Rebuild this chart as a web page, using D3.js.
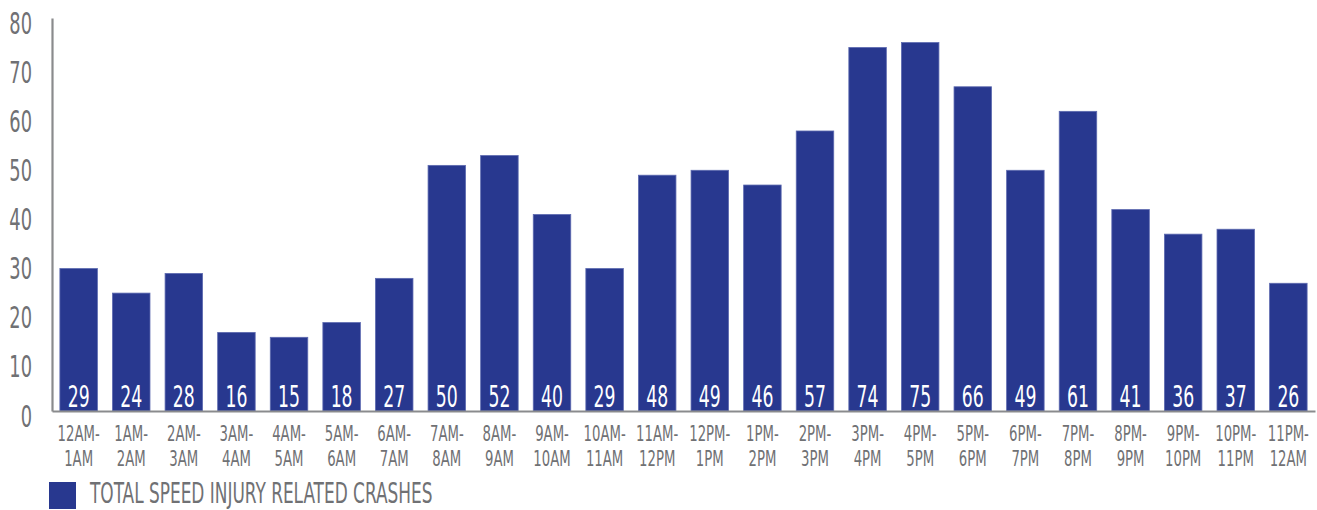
<!DOCTYPE html>
<html><head><meta charset="utf-8">
<script src="https://cdn.jsdelivr.net/npm/d3@7"></script>
<style>
html,body{margin:0;padding:0;background:#fff;}
text{font-family:"DejaVu Sans Condensed","Liberation Sans Narrow",sans-serif;}
</style></head>
<body><svg id="c" width="1317" height="510"></svg>
<script>
const categories = [["12AM-","1AM"],["1AM-","2AM"],["2AM-","3AM"],["3AM-","4AM"],["4AM-","5AM"],["5AM-","6AM"],["6AM-","7AM"],["7AM-","8AM"],["8AM-","9AM"],["9AM-","10AM"],["10AM-","11AM"],["11AM-","12PM"],["12PM-","1PM"],["1PM-","2PM"],["2PM-","3PM"],["3PM-","4PM"],["4PM-","5PM"],["5PM-","6PM"],["6PM-","7PM"],["7PM-","8PM"],["8PM-","9PM"],["9PM-","10PM"],["10PM-","11PM"],["11PM-","12AM"]];
const values = [29,24,28,16,15,18,27,50,52,40,29,48,49,46,57,74,75,66,49,61,41,36,37,26];
const yTicks = [0,10,20,30,40,50,60,70,80];
const seriesName = "TOTAL SPEED INJURY RELATED CRASHES";

const barColor = "#28388f", gray = "#707174";
const svg = d3.select("#c");
const keys = categories.map(c => c.join(""));
const x = d3.scaleBand().domain(keys).range([52, 1315]).paddingInner(0.287).paddingOuter(0.15);
const y = d3.scaleLinear().domain([0, 80]).range([411, 18]);

// bars
svg.append("g").selectAll("rect").data(values).join("rect")
  .attr("x", (d,i) => x(keys[i])).attr("width", x.bandwidth())
  .attr("y", d => y(d)).attr("height", d => y(0) - y(d))
  .attr("fill", barColor).attr("stroke", "#5d6ab0").attr("stroke-width", 0.8);

// value labels
svg.append("g").selectAll("text").data(values).join("text")
  .attr("transform", (d,i) => `translate(${x(keys[i]) + x.bandwidth()/2},${y(0) - 4}) scale(0.64,1)`)
  .attr("text-anchor", "middle").attr("fill", "#fff").attr("font-size", 30)
  .text(d => d);

// y axis
const ya = svg.append("g").attr("transform", "translate(52,0)")
  .call(d3.axisLeft(y).tickValues(yTicks).tickSize(0).tickFormat(""));
ya.select(".domain").attr("stroke", "#8a8b8d").attr("stroke-width", 2.2);
ya.selectAll(".tick").append("text")
  .attr("transform", `translate(-20,15) scale(0.66,1)`)
  .attr("text-anchor", "end").attr("fill", gray).attr("font-size", 30)
  .text(d => d);

// x axis
const xa = svg.append("g").attr("transform", `translate(0,${y(0)})`)
  .call(d3.axisBottom(x).tickSize(0).tickFormat(""));
xa.select(".domain").attr("stroke", "#8a8b8d").attr("stroke-width", 2.2);
xa.selectAll(".tick").each(function(d, i) {
  const g = d3.select(this);
  categories[i].forEach((line, j) => {
    g.append("text").attr("transform", `translate(0,${30 + j*25}) scale(0.67,1)`)
      .attr("text-anchor", "middle").attr("fill", gray).attr("font-size", 22).text(line);
  });
});

// legend
svg.append("rect").attr("x", 49).attr("y", 482).attr("width", 27).attr("height", 27).attr("fill", barColor);
svg.append("text").attr("transform", `translate(90,503) scale(0.65,1)`)
  .attr("fill", gray).attr("font-size", 29).text(seriesName);
</script></body></html>
